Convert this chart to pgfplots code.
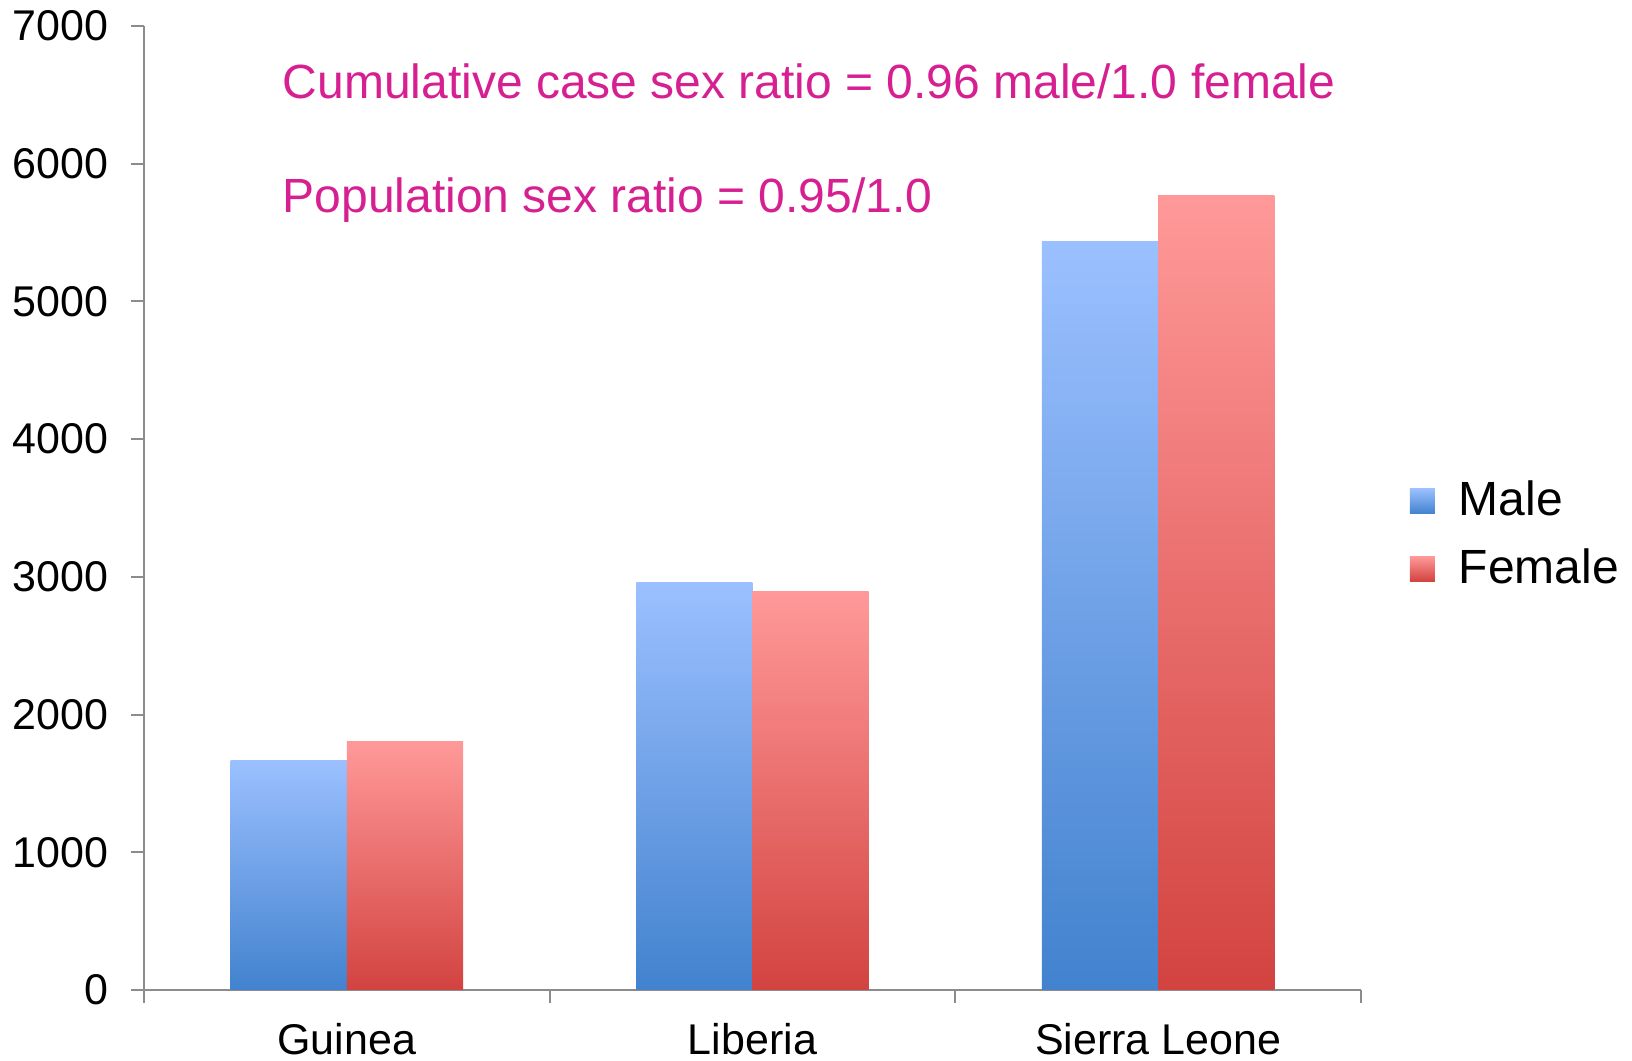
\documentclass[border=0pt]{standalone}
\usepackage{fontspec}
\setmainfont{Liberation Sans}
\usepackage{pgfplots}
\pgfplotsset{compat=1.18}
\definecolor{mtop}{RGB}{155,192,255}
\definecolor{mbot}{RGB}{66,130,206}
\definecolor{ftop}{RGB}{255,153,153}
\definecolor{fbot}{RGB}{210,67,64}
\definecolor{axgray}{RGB}{140,140,140}
\definecolor{mag}{RGB}{214,32,146}
\pgfplotsset{
  malebar/.style={draw=none, ybar, bar width=0.2865, bar shift=-0.14325, top color=mtop, bottom color=mbot,
    legend image code/.code={\fill[top color=mtop,bottom color=mbot] (0pt,-3.125pt) rectangle (6.25pt,3.125pt); \path (10.25pt,0pt);}},
  femalebar/.style={draw=none, ybar, bar width=0.2865, bar shift=0.14325, top color=ftop, bottom color=fbot,
    legend image code/.code={\fill[top color=ftop,bottom color=fbot] (0pt,-3.125pt) rectangle (6.25pt,3.125pt); \path (10.25pt,0pt);}},
}
\begin{document}
\begin{tikzpicture}
\useasboundingbox (-36pt,-17.75pt) rectangle (372pt,247.5pt);
\begin{axis}[
  at={(0pt,0pt)}, anchor=south west,
  scale only axis, width=304.25pt, height=241pt,
  xmin=0, xmax=3, ymin=0, ymax=7000,
  axis lines*=left,
  axis line style={draw=axgray, line width=0.5pt},
  tick style={draw=axgray, line width=0.5pt},
  tick align=outside, major tick length=3.25pt,
  ytick={0,1000,...,7000},
  xtick={0,1,2,3},
  x tick label as interval=true,
  xticklabels={Guinea,Liberia,Sierra Leone},
  /pgf/number format/assume math mode=true,
  /pgf/number format/1000 sep={},
  tick label style={font=\fontsize{10.75}{12}\selectfont, text=black, inner sep=0pt},
  yticklabel style={xshift=-5.5pt},
  xticklabel style={anchor=base, yshift=-13pt},
  legend style={draw=none, fill=none, at={(1.0296,0.472)}, anchor=west,
    font=\fontsize{12}{14}\selectfont, row sep=2.75pt},
  legend cell align=left,
  clip=false,
]
\addplot[malebar] coordinates {(0.5,1670)};
\addlegendentry{Male}
\addplot[femalebar] coordinates {(0.5,1808)};
\addlegendentry{Female}
\addplot[malebar, forget plot] coordinates {(1.5,2956)};
\addplot[malebar, forget plot] coordinates {(2.5,5432)};
\addplot[femalebar, forget plot] coordinates {(1.5,2890)};
\addplot[femalebar, forget plot] coordinates {(2.5,5766)};
\node[anchor=base west, inner sep=0pt, text=mag, font=\fontsize{12}{14}\selectfont] at (axis cs:0.340,6470) {Cumulative case sex ratio = 0.96 male/1.0 female};
\node[anchor=base west, inner sep=0pt, text=mag, font=\fontsize{12}{14}\selectfont] at (axis cs:0.340,5643) {Population sex ratio = 0.95/1.0};
\end{axis}
\end{tikzpicture}
\end{document}
